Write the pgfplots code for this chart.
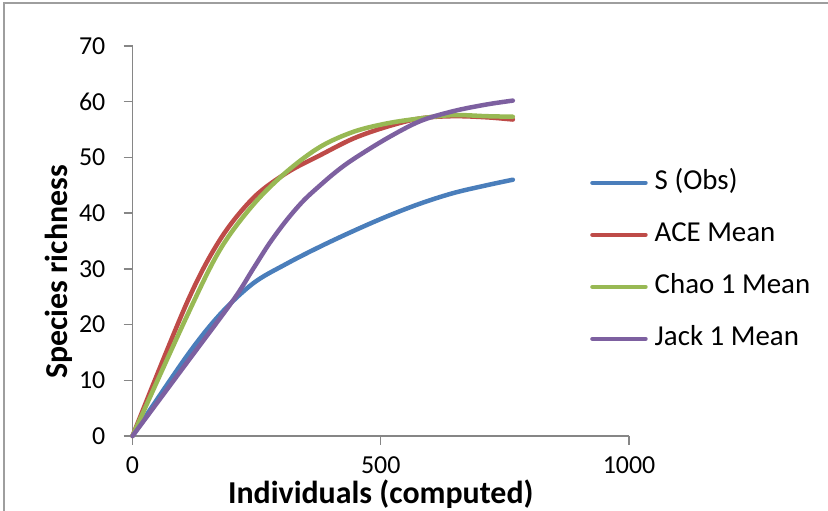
\documentclass[border=0pt]{standalone}
\usepackage{fontspec}
\setmainfont{Carlito}
\usepackage{pgfplots}
\pgfplotsset{compat=1.18}
\definecolor{sblue}{HTML}{4A7EBB}
\definecolor{sred}{HTML}{BE4B48}
\definecolor{sgreen}{HTML}{98B954}
\definecolor{spurple}{HTML}{7D60A0}
\definecolor{axgray}{HTML}{868686}
\begin{document}
\begin{tikzpicture}[x=1bp,y=1bp]
\path[use as bounding box] (0,0) rectangle (828,511);
\draw[color=axgray!80, line width=1.5bp] (4,0) -- (4,508) -- (828,508);
\begin{axis}[
  at={(132.5bp,75bp)}, anchor=origin,
  scale only axis, width=496.5bp, height=390bp,
  xmin=0, xmax=1000, ymin=0, ymax=70,
  axis lines*=left,
  axis line style={color=axgray, line width=1.3bp},
  xtick={0,500,1000}, ytick={0,10,...,70},
  tick align=outside, major tick length=9bp,
  tick style={color=axgray, line width=1.3bp},
  /pgf/number format/assume math mode=true,
  /pgf/number format/set thousands separator={},
  ticklabel style={font=\fontsize{26}{29}\selectfont},
  yticklabel style={inner xsep=0pt, xshift=-18bp},
  xticklabel style={yshift=-8bp},
  clip=false,
  xlabel={\textbf{Individuals (computed)}},
  ylabel={\textbf{Species richness}},
  xlabel style={font=\fontsize{32}{36}\selectfont, at={(axis description cs:0.5,-0.149)}, anchor=center},
  ylabel style={font=\fontsize{32}{36}\selectfont, at={(axis description cs:-0.149,0.4205)}, anchor=center},
  legend style={at={(axis description cs:0.9215,0.683)}, anchor=north west, draw=none, fill=none,
    font=\fontsize{29}{32}\selectfont, row sep=26bp, inner sep=0pt,
    nodes={inner sep=0pt, text height=20bp, text depth=6bp}},
  legend cell align=left,
  legend image code/.code={\draw[#1, line width=4.5bp, line cap=round] (0bp,0bp) -- (53bp,0bp);},
  every axis plot/.append style={line width=4.5bp, smooth, tension=0.55, line cap=round},
]
\addplot[color=sblue] coordinates {(0,0) (109,14.3) (176,21.8) (243,27.4) (310,30.9) (378,34.0) (445,36.8) (512,39.4) (579,41.7) (646,43.6) (713,45.0) (766,46.0)};
\addlegendentry{\hspace{7bp}S (Obs)}
\addplot[color=sred] coordinates {(0,0) (109,23.8) (176,35.2) (243,42.7) (310,47.2) (378,50.4) (445,53.4) (512,55.5) (579,57.0) (646,57.4) (713,57.2) (766,56.8)};
\addlegendentry{\hspace{7bp}ACE Mean}
\addplot[color=sgreen] coordinates {(0,0) (109,21.4) (176,33.4) (243,41.5) (310,47.4) (378,51.9) (445,54.6) (512,56.1) (579,57.0) (646,57.6) (713,57.4) (766,57.3)};
\addlegendentry{\hspace{7bp}Chao 1 Mean}
\addplot[color=spurple] coordinates {(0,0) (109,13.1) (203,24.4) (243,30.0) (276,34.6) (310,38.7) (344,42.2) (378,45.0) (411,47.5) (445,49.7) (512,53.4) (579,56.5) (646,58.3) (713,59.5) (766,60.2)};
\addlegendentry{\hspace{7bp}Jack 1 Mean}
\end{axis}
\end{tikzpicture}
\end{document}
